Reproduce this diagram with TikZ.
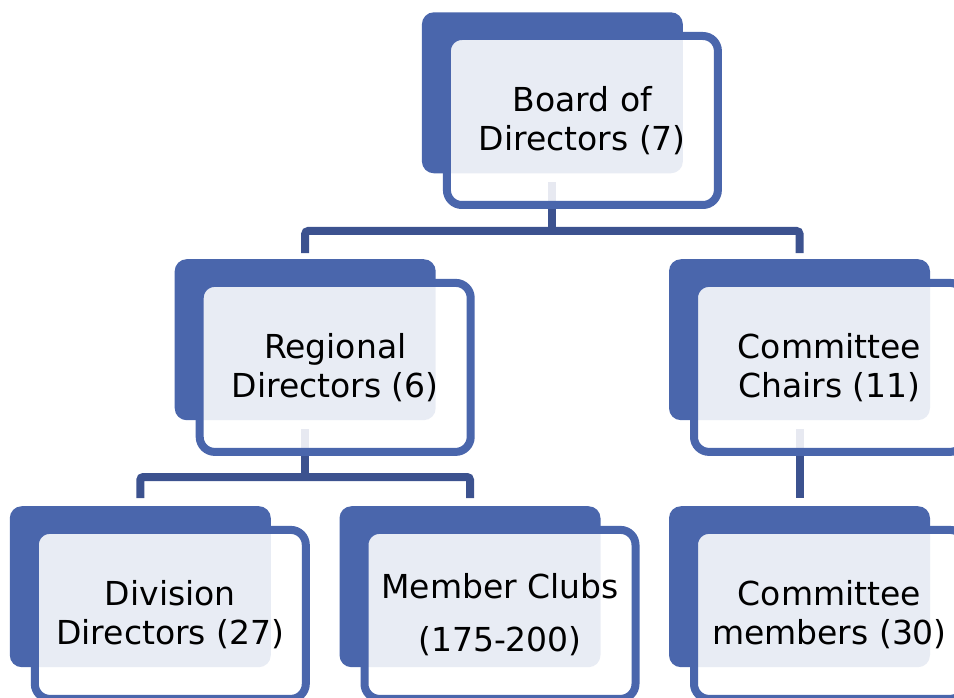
\documentclass[tikz,border=0pt]{standalone}
\usepackage{fontspec}
\setmainfont{DejaVu Sans}
\pgfdeclarelayer{bg}
\pgfsetlayers{bg,main}
\definecolor{unitblue}{RGB}{74,102,172}
\definecolor{linkblue}{RGB}{60,82,143}
\begin{document}
\begin{tikzpicture}[x=1pt,y=-1pt,
  darkbox/.style={rectangle, rounded corners=12pt, fill=unitblue,
    minimum width=261pt, minimum height=161pt, inner sep=0pt},
  framebox/.style={rectangle, rounded corners=15pt, draw=unitblue, line width=8pt,
    fill=white, fill opacity=0.88, text opacity=1, draw opacity=1,
    minimum width=271pt, minimum height=169pt, align=center, text=black,
    font=\fontsize{33}{38.5}\selectfont, inner sep=0pt},
  link/.style={draw=linkblue, line width=8pt, rounded corners=3pt}]
\useasboundingbox (0,0) rectangle (954,698);
\clip (0,0) rectangle (954,698);

\node[darkbox] (board) at (552.4,92.8) {};
\node[framebox] (boardtxt) at ([shift={(30,27.7)}]board.center) {Board of\\Directors (7)};

\node[darkbox] (regional) at (305.2,339.7) {};
\node[framebox] (regionaltxt) at ([shift={(30,27.7)}]regional.center) {Regional\\Directors (6)};

\node[darkbox] (chairs) at (799.5,339.7) {};
\node[framebox] (chairstxt) at ([shift={(30,27.7)}]chairs.center) {Committee\\Chairs (11)};

\node[darkbox] (division) at (140.3,586.7) {};
\node[framebox] (divisiontxt) at ([shift={(30,27.7)}]division.center) {Division\\Directors (27)};

\node[darkbox] (clubs) at (470,586.7) {};
\node[framebox] (clubstxt) at ([shift={(30,27.7)}]clubs.center) {Member Clubs\\[14pt](175-200)};

\node[darkbox] (members) at (799.5,586.7) {};
\node[framebox] (memberstxt) at ([shift={(30,27.7)}]members.center) {Committee\\members (30)};

\coordinate (bus1) at (board.center |- 0,231);
\coordinate (bus2) at (regional.center |- 0,477);

\begin{pgfonlayer}{bg}
\draw[link] ([yshift=-9pt]board.south) -- (bus1);
\draw[link] ([yshift=6pt]regional.north) |- (bus1) -| ([yshift=6pt]chairs.north);
\draw[link] ([yshift=-9pt]regional.south) -- (bus2);
\draw[link] ([yshift=8pt]division.north) |- (bus2) -| ([yshift=8pt]clubs.north);
\draw[link] ([yshift=-9pt]chairs.south) -- ([yshift=8pt]members.north);
\end{pgfonlayer}
\end{tikzpicture}
\end{document}
